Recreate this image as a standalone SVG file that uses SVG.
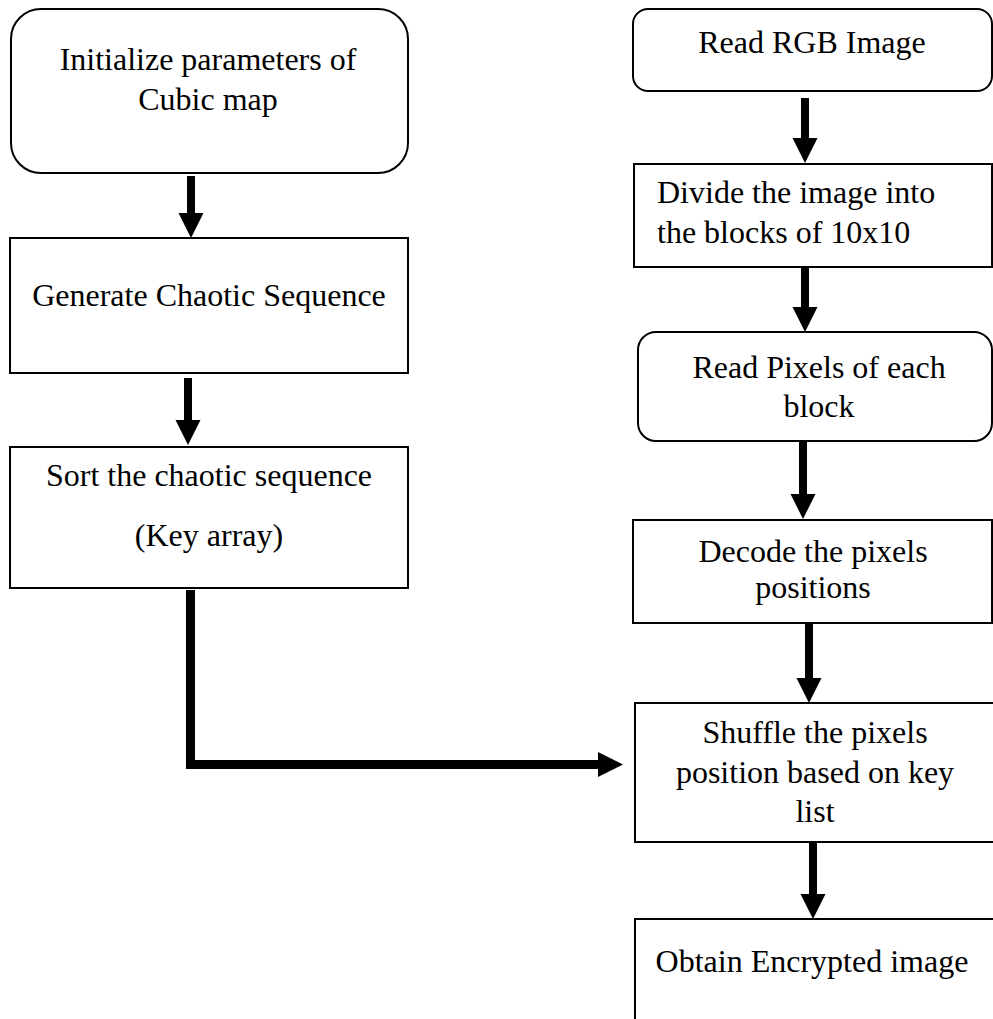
<svg xmlns="http://www.w3.org/2000/svg" width="993" height="1019" viewBox="0 0 993 1019">
  <defs>
    <style>
      .box { fill: #ffffff; stroke: #000000; stroke-width: 2; }
      .lbl { font-family: "Liberation Serif", "Times New Roman", serif; font-size: 32px; fill: #000000; }
      .mid { text-anchor: middle; }
      .flow { fill: none; stroke: #000000; stroke-width: 8; }
      .link { fill: none; stroke: #000000; stroke-width: 9; }
    </style>
    <!-- solid triangular head; the line ends at the head's base -->
    <marker id="head" markerUnits="userSpaceOnUse" markerWidth="26" markerHeight="26" refX="0" refY="12.5" orient="auto">
      <path d="M0,0 L25,12.5 L0,25 Z" fill="#000000"/>
    </marker>
  </defs>
  <rect width="993" height="1019" fill="#ffffff"/>

  <!-- left column -->
  <g id="init-params">
    <rect class="box" x="11" y="9" width="397" height="164" rx="30" ry="30"/>
    <text class="lbl mid" x="208" y="70">Initialize parameters of</text>
    <text class="lbl mid" x="208" y="110">Cubic map</text>
  </g>
  <g id="gen-sequence">
    <rect class="box" x="10" y="238" width="398" height="135"/>
    <text class="lbl mid" x="209" y="306">Generate Chaotic Sequence</text>
  </g>
  <g id="sort-sequence">
    <rect class="box" x="10" y="447" width="398" height="141"/>
    <text class="lbl mid" x="209" y="486">Sort the chaotic sequence</text>
    <text class="lbl mid" x="209" y="546">(Key array)</text>
  </g>

  <!-- right column -->
  <g id="read-image">
    <rect class="box" x="633" y="9" width="359" height="82" rx="15" ry="15"/>
    <text class="lbl mid" x="812" y="53">Read RGB Image</text>
  </g>
  <g id="divide-blocks">
    <rect class="box" x="634" y="164" width="358" height="103"/>
    <text class="lbl" x="657" y="203">Divide the image into</text>
    <text class="lbl" x="657" y="243">the blocks of 10x10</text>
  </g>
  <g id="read-pixels">
    <rect class="box" x="638" y="332" width="354" height="109" rx="18" ry="18"/>
    <text class="lbl mid" x="819" y="378">Read Pixels of each</text>
    <text class="lbl mid" x="819" y="417">block</text>
  </g>
  <g id="decode-positions">
    <rect class="box" x="633" y="520" width="359" height="103"/>
    <text class="lbl mid" x="813" y="562">Decode the pixels</text>
    <text class="lbl mid" x="813" y="598">positions</text>
  </g>
  <g id="shuffle-pixels">
    <rect class="box" x="635" y="703" width="380" height="139"/>
    <text class="lbl mid" x="815" y="743">Shuffle the pixels</text>
    <text class="lbl mid" x="815" y="783">position based on key</text>
    <text class="lbl mid" x="815" y="822">list</text>
  </g>
  <g id="encrypted-image">
    <rect class="box" x="635" y="919" width="380" height="140"/>
    <text class="lbl mid" x="812" y="972">Obtain Encrypted image</text>
  </g>

  <!-- connectors -->
  <g id="connectors">
    <line class="flow" x1="191" y1="176" x2="191" y2="213" marker-end="url(#head)"/>
    <line class="flow" x1="188" y1="378" x2="188" y2="420" marker-end="url(#head)"/>
    <path class="link" d="M190.5,590 V764.5 H598" marker-end="url(#head)"/>

    <line class="flow" x1="805" y1="98" x2="805" y2="138" marker-end="url(#head)"/>
    <line class="flow" x1="805" y1="267" x2="805" y2="307" marker-end="url(#head)"/>
    <line class="flow" x1="803" y1="441" x2="803" y2="494" marker-end="url(#head)"/>
    <line class="flow" x1="809" y1="623" x2="809" y2="678" marker-end="url(#head)"/>
    <line class="flow" x1="813" y1="842" x2="813" y2="894" marker-end="url(#head)"/>
  </g>
</svg>
